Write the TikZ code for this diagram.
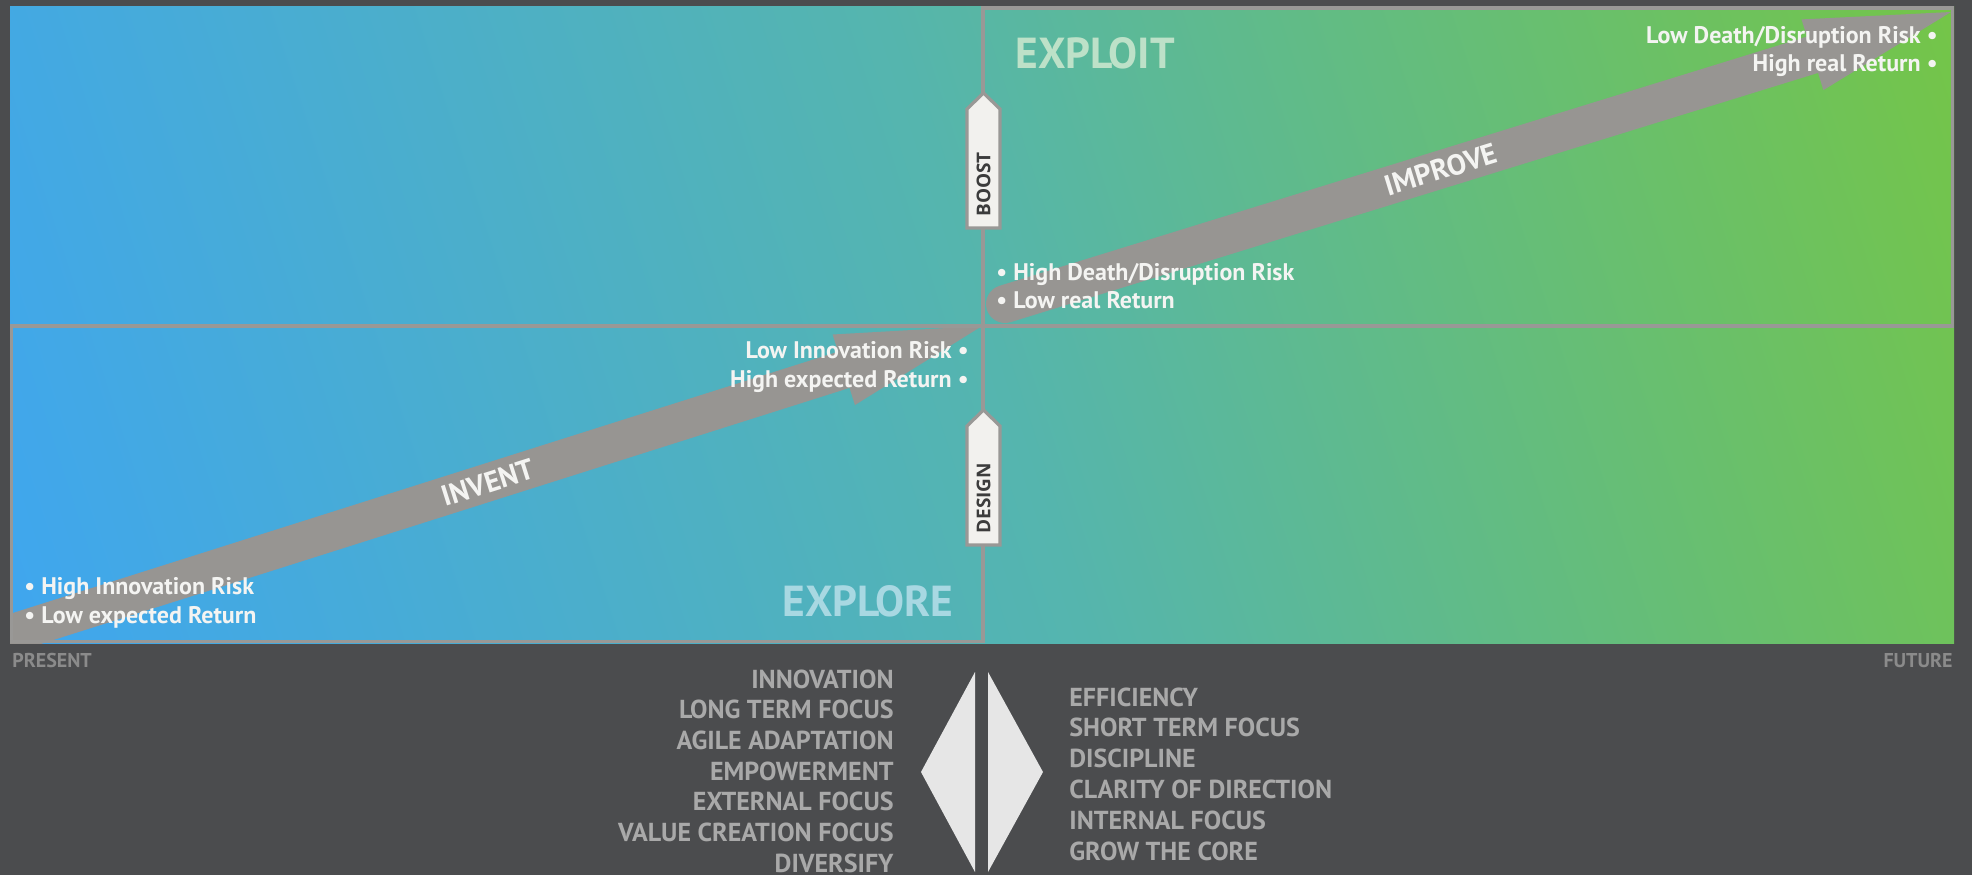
\documentclass[tikz,border=0pt]{standalone}
\usepackage{fontspec}
\setmainfont{PT Sans}
\newfontfamily\boxfont{Open Sans}
\usetikzlibrary{calc}
\definecolor{bgdark}{HTML}{4B4C4E}
\definecolor{gradblue}{HTML}{3FA6EF}
\definecolor{gradteal}{HTML}{55B5AE}
\definecolor{gradgreen}{HTML}{74C548}
\definecolor{framegray}{HTML}{999896}
\definecolor{arrowgray}{HTML}{979592}
\definecolor{boxfill}{HTML}{F2F1EE}
\definecolor{boxtext}{HTML}{3C3C3C}
\definecolor{listgray}{HTML}{A9A9A9}
\definecolor{axisgray}{HTML}{8B8B8B}
\definecolor{exploitcol}{HTML}{BDE1C8}
\definecolor{explorecol}{HTML}{A8D8E2}
\definecolor{notewhite}{HTML}{F4F4F2}
\definecolor{diamondgray}{HTML}{E6E6E6}
\tikzset{
  note/.style={text=notewhite, inner sep=0pt, font=\fontsize{12}{14}\selectfont\bfseries},
  quadname/.style={inner sep=0pt, font=\fontsize{21.7}{26}\selectfont\bfseries},
  flow/.style={text=notewhite, inner sep=0pt, font=\fontsize{14.5}{17}\selectfont\bfseries},
  trait/.style={text=listgray, inner sep=0pt, font=\fontsize{13}{15}\selectfont\bfseries},
  tag/.style={draw=framegray, line width=1.6pt, fill=boxfill},
  taglabel/.style={rotate=90, anchor=west, inner sep=0pt, text=boxtext, font=\boxfont\bfseries\fontsize{9.5}{11}\selectfont},
  timelabel/.style={text=axisgray, inner sep=0pt, font=\fontsize{10}{12}\selectfont\bfseries},
  shaft/.style={arrowgray, line width=19pt}
}
\begin{document}
\begin{tikzpicture}[x=0.5pt,y=-0.5pt]
  \fill[bgdark] (0,0) rectangle (1972,875);
  \useasboundingbox (0,0) rectangle (1972,875);
  \begin{scope}
    \clip (10,6) rectangle (1954,643);
    \shade[bottom color=gradblue, top color=gradgreen, middle color=gradteal, shading angle=-72]
      (-40.5,-698) rectangle (2004.5,1347);
  \end{scope}

  \coordinate (invtail) at (-20,643.3);
  \coordinate (invtip) at (982,326);
  \coordinate (invbase) at ($(invtip)!72.5pt!(invtail)$);
  \coordinate (imptail) at (1005,304);
  \coordinate (imptip) at (1951,12);
  \coordinate (impbase) at ($(imptip)!72.5pt!(imptail)$);
  \begin{scope}
    \clip (10,326) rectangle (983,643);
    \draw[shaft] (invtail) -- ($(invtip)!70pt!(invtail)$);
    \fill[arrowgray] ($(invbase)!18.5pt!90:(invtip)$) -- (invtip) -- ($(invbase)!18.5pt!-90:(invtip)$) -- cycle;
  \end{scope}
  \draw[shaft, line cap=round] (imptail) -- ($(imptip)!70pt!(imptail)$);
  \fill[arrowgray] ($(impbase)!18.5pt!90:(imptip)$) -- (imptip) -- ($(impbase)!18.5pt!-90:(imptip)$) -- cycle;

  \draw[framegray, line width=1.75pt] (11.5,326) rectangle (983,641.5);
  \draw[framegray, line width=1.75pt] (983,8) rectangle (1952.5,326);

  \foreach \y/\t/\n in {93/BOOST/boost, 410/DESIGN/design} {
    \draw[tag, shift={(0,\y)}] (967,135) -- (967,16) -- (983.5,0) -- (1000,16) -- (1000,135) -- cycle;
    \node[taglabel] (\n) at (983.5,\y+124) {\t};
  }

  \path (invtail) -- (invtip) node[flow, sloped, pos=0.507] (invent) {INVENT};
  \path (imptail) -- (imptip) node[flow, sloped, pos=0.461] (improve) {IMPROVE};

  \node[note, anchor=base west] (hir) at (24,594) {• High Innovation Risk};
  \node[note, anchor=base west] (ler) at (24,623) {• Low expected Return};
  \node[note, anchor=base east] (lir) at (969,358) {Low Innovation Risk •};
  \node[note, anchor=base east] (her) at (969,387) {High expected Return •};
  \node[note, anchor=base west] (hdr) at (996,280) {• High Death/Disruption Risk};
  \node[note, anchor=base west] (lrr) at (996,308) {• Low real Return};
  \node[note, anchor=base east] (ldr) at (1938,43) {Low Death/Disruption Risk •};
  \node[note, anchor=base east] (hrr) at (1938,71) {High real Return •};

  \node[quadname, text=exploitcol, anchor=base west] (exploit) at (1015,68) {EXPLOIT};
  \node[quadname, text=explorecol, anchor=base east] (explore) at (954,616) {EXPLORE};

  \node[timelabel, anchor=base west] (present) at (12,667) {PRESENT};
  \node[timelabel, anchor=base east] (future) at (1953,667) {FUTURE};

  \fill[diamondgray] (975,672) -- (921,772) -- (975,872) -- cycle;
  \fill[diamondgray] (988,672) -- (1043,772) -- (988,872) -- cycle;

  \foreach \t [count=\i from 0] in {INNOVATION, LONG TERM FOCUS, AGILE ADAPTATION, EMPOWERMENT, EXTERNAL FOCUS, VALUE CREATION FOCUS, DIVERSIFY}
    \node[trait, anchor=base east] (ltrait\i) at (894,{688+30.7*\i}) {\t};
  \foreach \t [count=\i from 0] in {EFFICIENCY, SHORT TERM FOCUS, DISCIPLINE, CLARITY OF DIRECTION, INTERNAL FOCUS, GROW THE CORE}
    \node[trait, anchor=base west] (rtrait\i) at (1069,{706+30.8*\i}) {\t};
\end{tikzpicture}
\end{document}
